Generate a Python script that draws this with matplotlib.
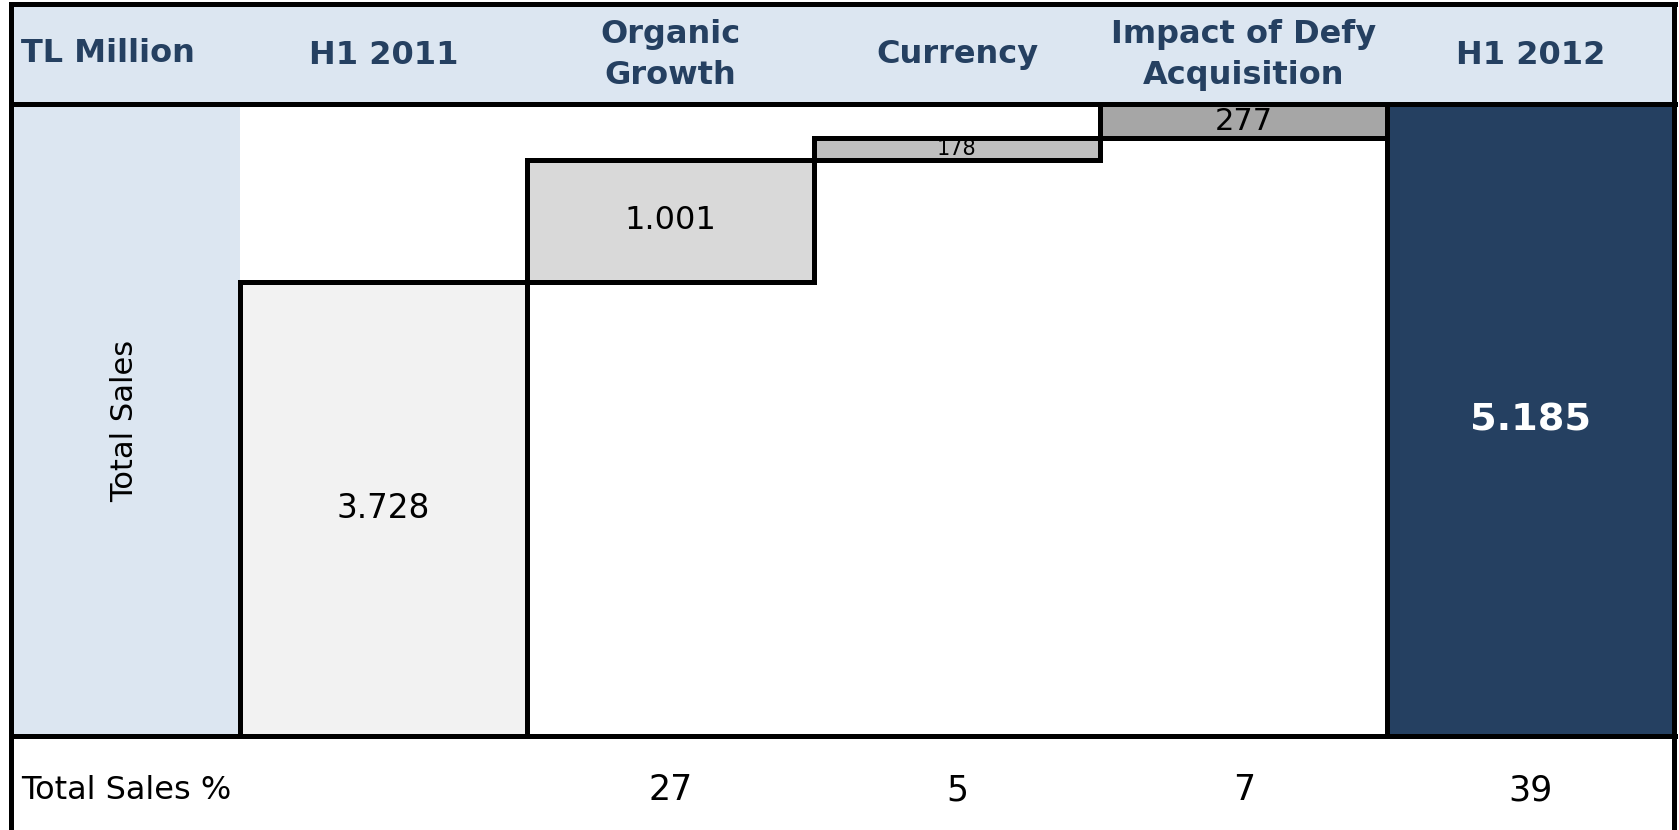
import matplotlib
matplotlib.use('Agg')
import matplotlib.pyplot as plt
import matplotlib.transforms as mtransforms
from matplotlib.lines import Line2D
from matplotlib.patches import Rectangle

# chart data (waterfall, TL million)
steps = ['H1 2011', 'Organic\nGrowth', 'Currency', 'Impact of Defy\nAcquisition', 'H1 2012']
values = [3728, 1001, 178, 277, 5185]
value_labels = ['3.728', '1.001', '178', '277', '5.185']
sales_pct = ['', '27', '5', '7', '39']
is_total = [True, False, False, False, True]

unit_label = 'TL Million'
row_label = 'Total Sales'
pct_row_label = 'Total Sales %'

bar_colors = ['#F2F2F2', '#D9D9D9', '#BFBFBF', '#A6A6A6', '#254061']
navy = '#254061'
light_blue = '#DCE6F1'

W, H = 1679, 830
fig = plt.figure(figsize=(W / 100, H / 100), dpi=100)
fig.patch.set_facecolor('white')

# table layout in pixels
left, lab_right, right = 11, 240, 1674
top, head_bot, base = 4, 104, 736


def fx(px):
    return px / W


def fy(py):
    return 1 - py / H


# light blue header row and label column
fig.patches.append(Rectangle((fx(left), fy(head_bot)), fx(right) - fx(left), fy(top) - fy(head_bot),
                             transform=fig.transFigure, facecolor=light_blue, edgecolor='none', zorder=-1))
fig.patches.append(Rectangle((fx(left), fy(base)), fx(lab_right) - fx(left), fy(head_bot) - fy(base),
                             transform=fig.transFigure, facecolor=light_blue, edgecolor='none', zorder=-1))

ax = fig.add_axes([fx(lab_right), fy(base), fx(right) - fx(lab_right), fy(head_bot) - fy(base)])
ax.set_zorder(1)
ax.set_xlim(-0.5, len(steps) - 0.5)
ax.set_ylim(0, max(values))
ax.axis('off')
ax.patch.set_alpha(0)

# bottoms of the floating bars
bottoms = []
running = 0
for v, tot in zip(values, is_total):
    if tot:
        bottoms.append(0)
        running = v
    else:
        bottoms.append(running)
        running += v

x = list(range(len(steps)))
bars = ax.bar(x, values, bottom=bottoms, width=1.0, color=bar_colors, edgecolor='black',
              linewidth=3.6, clip_on=False, zorder=3)

sizes = [23.5, 23, 15, 22, 27.5]
for i, b in enumerate(bars):
    cy = bottoms[i] + values[i] / 2
    if i == len(steps) - 1:
        ax.text(i, cy, value_labels[i], ha='center', va='center', fontsize=sizes[i],
                fontweight='bold', color='white', zorder=5)
    else:
        ax.text(i, cy, value_labels[i], ha='center', va='center', fontsize=sizes[i],
                color='black', zorder=5)

# header row
trans = mtransforms.blended_transform_factory(ax.transData, fig.transFigure)
for i, s in enumerate(steps):
    ax.text(i, fy(55), s, transform=trans, ha='center', va='center', fontsize=23,
            fontweight='bold', color=navy, linespacing=1.45)
fig.text(fx(21), fy(54), unit_label, ha='left', va='center', fontsize=23, fontweight='bold', color=navy)

# label column and % row
fig.text(fx(125), fy(421), row_label, rotation=90, ha='center', va='center', fontsize=22, color='black')
fig.text(fx(21), fy(790), pct_row_label, ha='left', va='center', fontsize=23, color='black')
for i, p in enumerate(sales_pct):
    ax.text(i, fy(790), p, transform=trans, ha='center', va='center', fontsize=25, color='black')

# grid lines of the table
lw = 3.6
for yy in [top, head_bot, base]:
    fig.add_artist(Line2D([fx(left), fx(right + 1)], [fy(yy), fy(yy)], color='black', lw=lw, zorder=6))
for xx in [left, right]:
    fig.add_artist(Line2D([fx(xx), fx(xx)], [fy(top), 0], color='black', lw=lw, zorder=6))

fig.savefig('out.png', dpi=100)
